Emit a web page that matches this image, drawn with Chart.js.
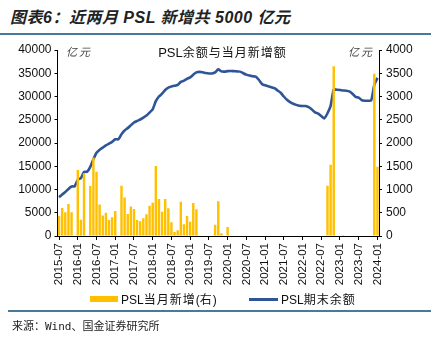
<!DOCTYPE html>
<html>
<head>
<meta charset="utf-8">
<script src="https://cdn.jsdelivr.net/npm/chart.js@4.4.0/dist/chart.umd.min.js"></script>
<style>
	html, body { margin:0; padding:0; background:#fff; }
	body { width:445px; height:343px; position:relative; overflow:hidden; font-family:"Liberation Sans", Arial, "Noto Sans CJK SC", sans-serif; }
	#chartBox { position:absolute; left:0; top:0; width:445px; height:343px; }
	.topTit { position:absolute; left:10px; top:4px; font-size:16px; font-style:italic; font-weight:bold; color:#222; font-family:"Liberation Sans", "Noto Sans CJK SC", sans-serif; letter-spacing:0.5px; }
	.lineTop { position:absolute; left:0; top:33px; width:431px; height:2px; background:#4a7a99; }
	.lineBot { position:absolute; left:8px; top:310px; width:423px; height:2px; background:#4a7a99; }
	.source { position:absolute; left:12px; top:317px; font-size:11px; color:#222; font-family:"DejaVu Sans Mono", "Noto Sans CJK SC", monospace; }
	.chartTit { position:absolute; left:0; width:445px; text-align:center; top:43px; font-size:13px; color:#111; padding-left:0; }
	.chartTit span { letter-spacing:1px; font-family:"Noto Sans CJK SC", sans-serif; font-size:12px; }
	.unit { position:absolute; top:43px; font-size:11px; color:#444; letter-spacing:2px; font-family:"Noto Sans CJK SC", sans-serif; font-style:italic; }
	.legend { position:absolute; top:290px; font-size:12px; color:#111; }
	.legend i { position:absolute; display:block; }
	.legend span { position:absolute; white-space:nowrap; top:0; }
	.legend span b { font-weight:normal; font-family:"Noto Sans CJK SC", sans-serif; letter-spacing:1px; }
</style>
</head>
<body>
<div class="topTit">图表6：近两月 PSL 新增共 5000 亿元</div>
<div class="lineTop"></div>
<div id="chartBox"><canvas id="myChart" width="445" height="343"></canvas></div>
<div class="chartTit">PSL<span>余额与当月新增额</span></div>
<div class="unit" style="left:66px;">亿元</div>
<div class="unit" style="left:348px;">亿元</div>
<div class="legend" style="left:0;">
	<i style="left:90px; top:6px; width:28px; height:6px; background:#ffc000;"></i>
	<span style="left:121px;">PSL<b>当月新增</b>(<b>右</b>)</span>
	<i style="left:249px; top:8px; width:29px; height:3px; background:#2f5597;"></i>
	<span style="left:281px;">PSL<b>期末余额</b></span>
</div>
<div class="lineBot"></div>
<div class="source">来源：Wind、国金证券研究所</div>

<script>
// 월별 카테고리 2015-07 ~ 2024-01
var months = [];
for (var y = 2015; y <= 2024; y++) {
	for (var m = 1; m <= 12; m++) {
		if (y == 2015 && m < 7) continue;
		if (y == 2024 && m > 1) continue;
		months.push(y + "-" + (m < 10 ? "0" + m : m));
	}
}

// PSL 당월 신규 (오른쪽 축, 억元)
var newPSL = [
	430, 600, 510, 690, 510, 0, 1420, 350, 1350, 0, 1075, 1690,
	1380, 680, 440, 500, 345, 405, 537, 0, 1080, 830, 473, 635,
	580, 344, 318, 380, 466, 652, 716, 1505, 795, 523, 795, 595,
	298, 86, 125, 735, 251, 430, 305, 712, 576, 0, 0, 0,
	0, 0, 240, 750, 57, 0, 193, 0, 0, 0, 0, 0,
	0, 0, 0, 0, 0, 0, 0, 0, 0, 0, 0, 0,
	0, 0, 0, 0, 0, 0, 0, 0, 0, 0, 0, 0,
	0, 0, 1080, 1530, 3650, 0, 0, 20, 0, 0, 0, 0,
	0, 0, 0, 0, 0, 3490, 1490
];

// PSL 기말 잔액 (왼쪽 축, 억元)
var balancePSL = [
	8350, 8950, 9450, 10100, 10650, 10700, 12100, 12450, 13800, 13800, 14850, 16500,
	17900, 18550, 19000, 19500, 19850, 20250, 20800, 20800, 21900, 22700, 23200, 23800,
	24400, 24750, 25050, 25450, 25900, 26550, 27250, 29000, 30000, 30600, 31400, 31900,
	32150, 32300, 32500, 33150, 33400, 33800, 34100, 34700, 35200, 35300, 35200, 35050,
	34950, 34950, 35200, 35850, 35400, 35350, 35450, 35500, 35450, 35400, 35350, 35000,
	34700, 34500, 34350, 34250, 33600, 32700, 32400, 32200, 32000, 31800, 31300, 30800,
	30000, 29300, 28800, 28450, 28200, 28000, 27950, 27950, 27700, 27200, 26600, 26300,
	25800, 25300, 26400, 28000, 31500, 31450, 31400, 31300, 31250, 31100, 30600, 29900,
	29750, 29200, 29100, 29100, 29150, 32500, 34000
];

var leftTicks = [0, 5000, 10000, 15000, 20000, 25000, 30000, 35000, 40000];
var rightTicks = [0, 500, 1000, 1500, 2000, 2500, 3000, 3500, 4000];

var tickFont = { family: "'Liberation Sans', Arial, sans-serif", size: 12 };

function plainNum(val) {
	return String(val);
}

window.onload = function () {
	var ctx = document.getElementById('myChart').getContext('2d');
	var myChart = new Chart(ctx, {
		data: {
			labels: months,
			datasets: [{
				type: 'bar',
				label: 'PSL当月新增(右)',
				data: newPSL,
				yAxisID: 'y1',
				backgroundColor: '#ffc000',
				categoryPercentage: 1,
				barPercentage: 0.78
			}, {
				type: 'line',
				label: 'PSL期末余额',
				data: balancePSL,
				yAxisID: 'y',
				borderColor: '#2f5597',
				borderWidth: 2.6,
				pointRadius: 0,
				tension: 0.2,
				fill: false
			}]
		},
		options: {
			responsive: false,
			animation: false,
			events: [],
			layout: { padding: { top: 50, bottom: 50, left: 0, right: 0 } },
			plugins: {
				legend: { display: false },
				tooltip: { enabled: false }
			},
			scales: {
				x: {
					offset: true,
					grid: { display: true, drawOnChartArea: false, offset: false, tickLength: 4, color: '#000' },
					border: { color: '#000' },
					ticks: {
						autoSkip: false,
						maxRotation: 90,
						minRotation: 90,
						padding: 3,
						color: '#111',
						font: { family: "'Liberation Sans', Arial, sans-serif", size: 11.5 },
						callback: function (val, idx) {
							return idx % 6 == 0 ? months[idx] : null;
						}
					},
					afterFit: function (scale) { scale.height = 57; }
				},
				y: {
					position: 'left',
					min: 0,
					max: 40000,
					afterBuildTicks: function (scale) {
						scale.ticks = leftTicks.map(function (v) { return { value: v }; });
					},
					grid: { drawOnChartArea: false, tickLength: 3, color: '#000' },
					border: { color: '#000' },
					ticks: { color: '#111', font: tickFont, padding: 3, callback: plainNum },
					afterFit: function (scale) { scale.width = 57.5; }
				},
				y1: {
					position: 'right',
					min: 0,
					max: 4000,
					afterBuildTicks: function (scale) {
						scale.ticks = rightTicks.map(function (v) { return { value: v }; });
					},
					grid: { drawOnChartArea: false, tickLength: 3, color: '#000' },
					border: { color: '#000' },
					ticks: { color: '#111', font: tickFont, padding: 4, callback: plainNum },
					afterFit: function (scale) { scale.width = 66; }
				}
			}
		}
	});
};
</script>
</body>
</html>
